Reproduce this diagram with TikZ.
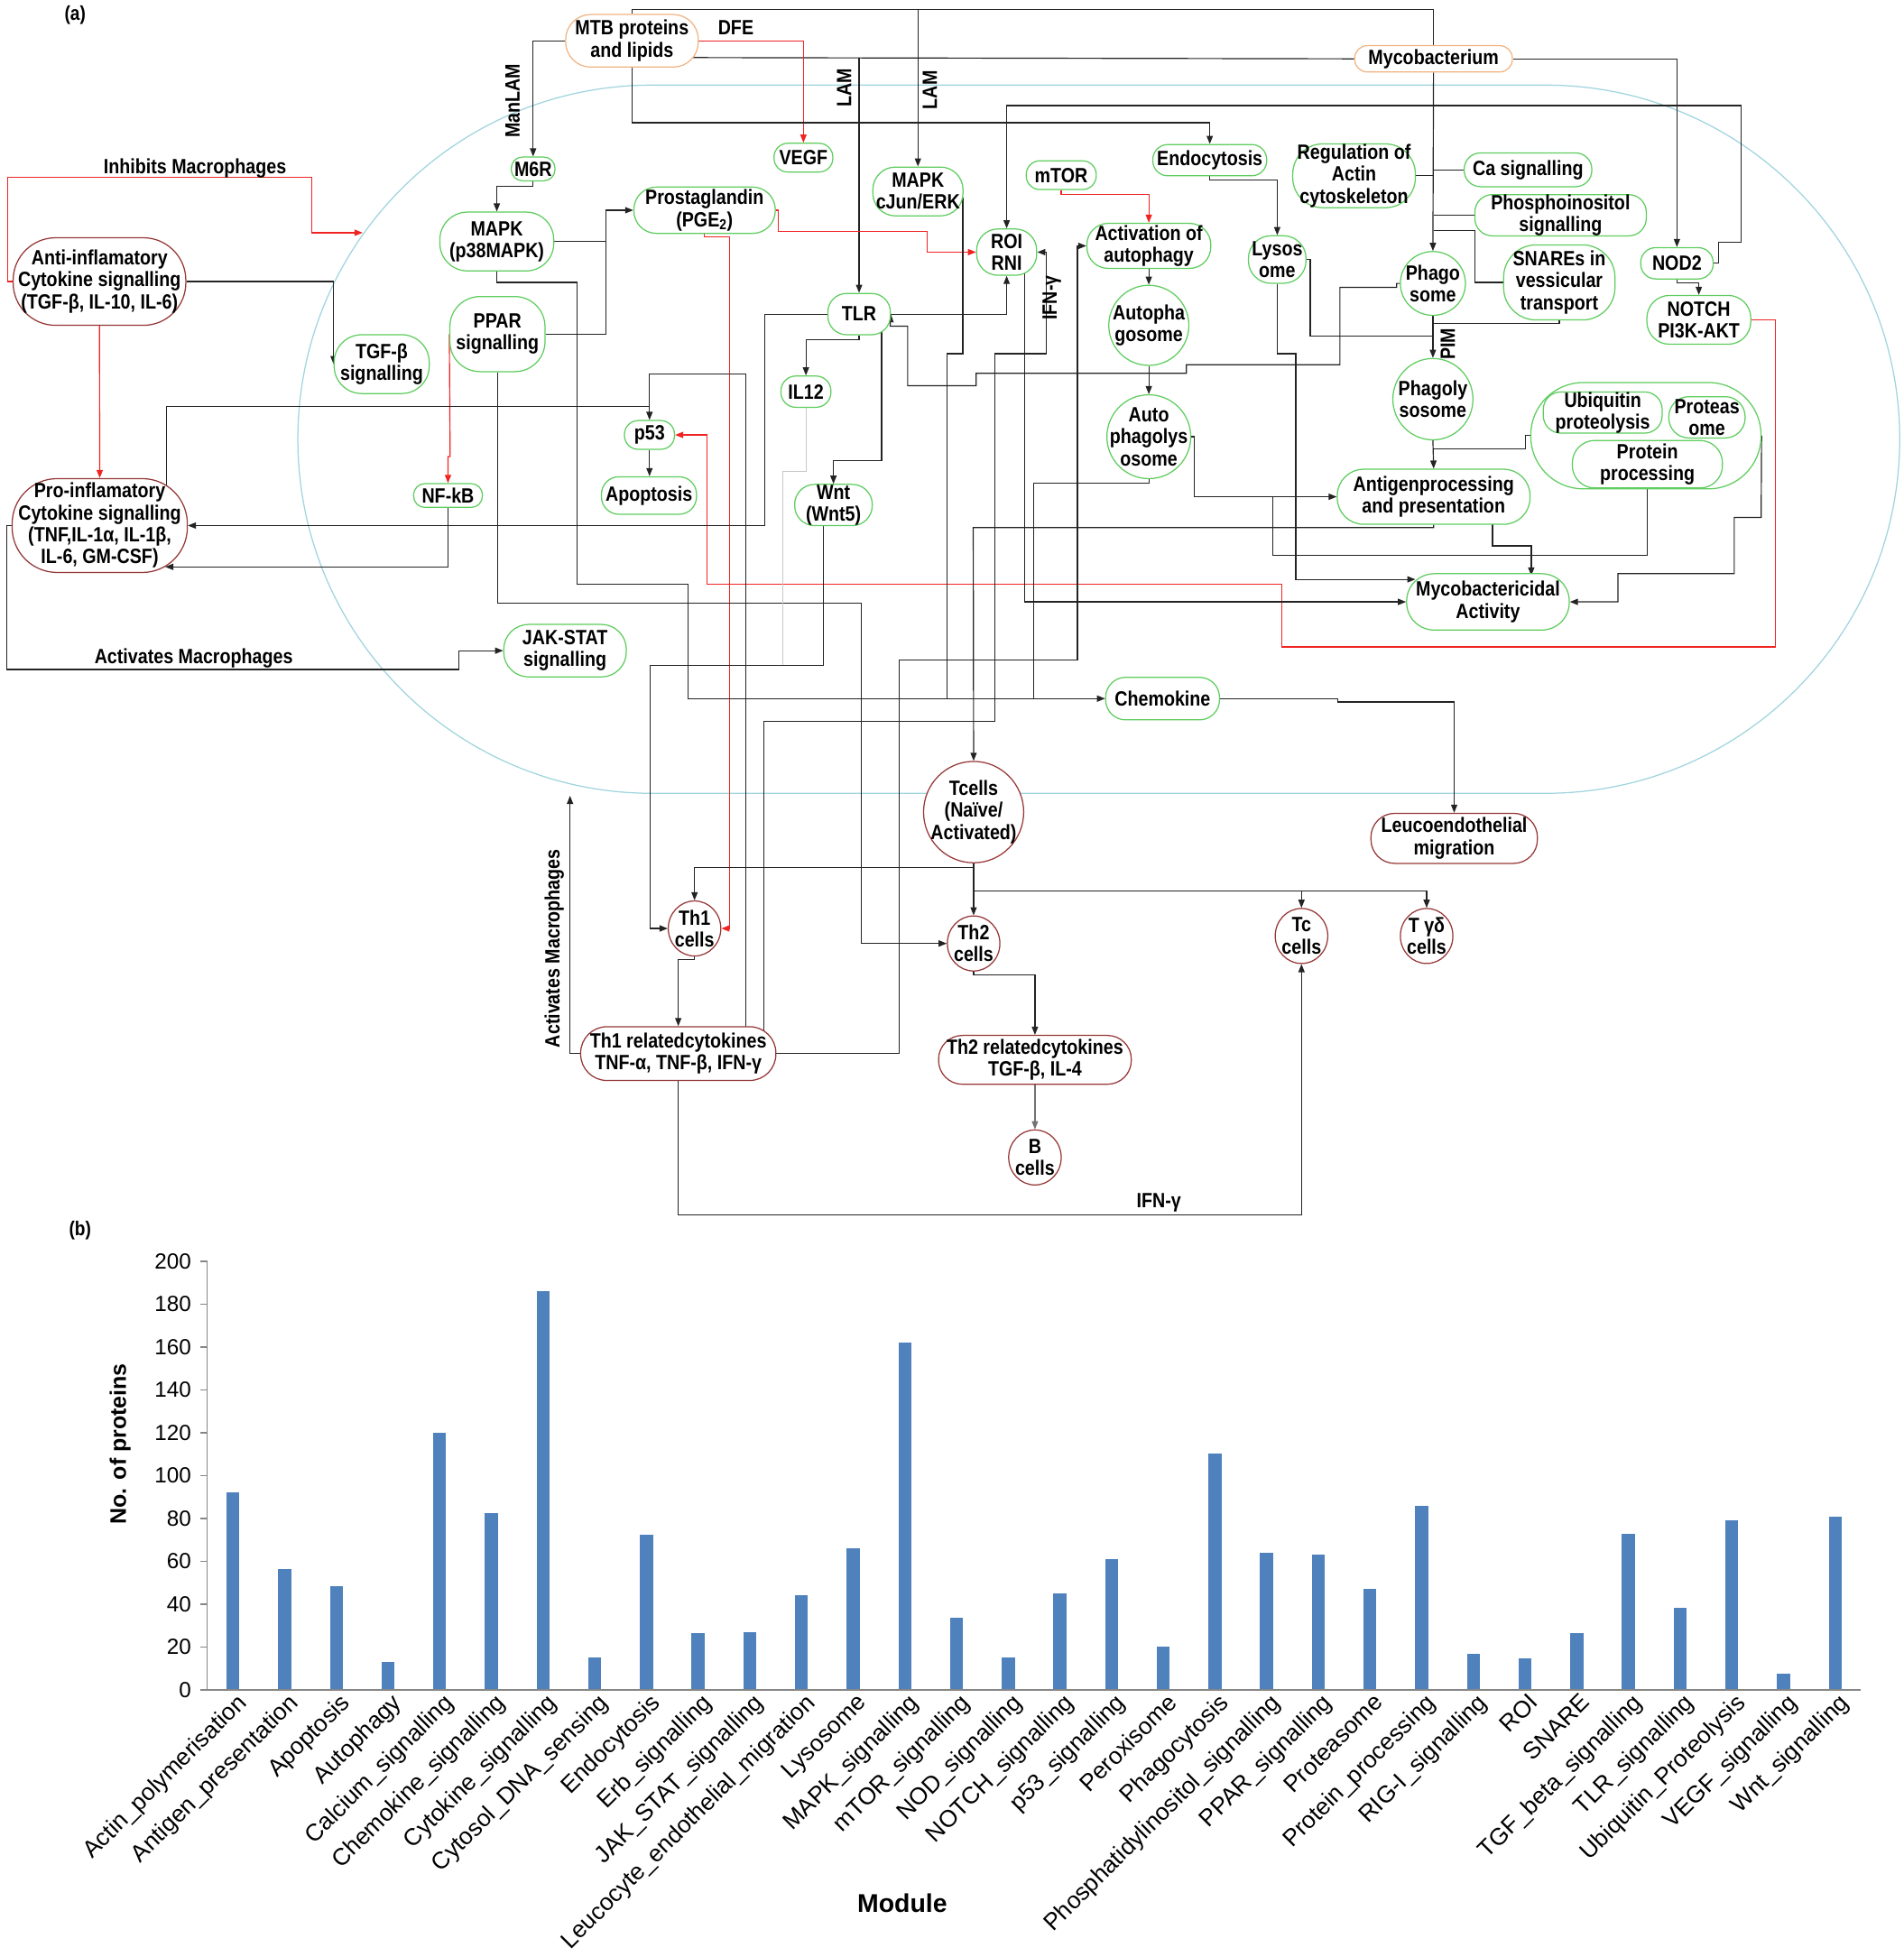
\documentclass[tikz,border=0pt]{standalone}
\usepackage{fontspec}
\setmainfont{Liberation Sans}
\newfontfamily\nf{Liberation Sans}[FakeStretch=0.86]
\usetikzlibrary{arrows.meta,shapes.geometric}
\pgfdeclarelayer{bg}
\pgfsetlayers{bg,main}
\definecolor{gC}{RGB}{95,205,95}
\definecolor{rC}{RGB}{150,55,55}
\definecolor{oC}{RGB}{240,180,130}
\definecolor{memC}{RGB}{160,212,222}
\definecolor{lnC}{RGB}{35,35,35}
\definecolor{redC}{RGB}{240,35,35}
\definecolor{barC}{RGB}{79,129,189}
\definecolor{axC}{RGB}{134,134,134}
\definecolor{grayln}{RGB}{200,200,200}
\begin{document}
\begin{tikzpicture}[x=1pt,y=-1pt,
  nfont/.style={font=\nf\bfseries\fontsize{16.5}{17.5}\selectfont},
  base/.style={nfont, align=center, inner sep=0pt, fill=white, line width=0.9pt},
  sz/.style n args={3}{minimum width=#1, minimum height=#2, rounded corners=#3},
  esz/.style 2 args={minimum width=#1, minimum height=#2},
  gbox/.style={base, draw=gC, rectangle},
  rbox/.style={base, draw=rC, rectangle},
  obox/.style={base, draw=oC, rectangle},
  gell/.style={base, draw=gC, ellipse},
  rell/.style={base, draw=rC, ellipse},
  lbl/.style={nfont, align=center, inner sep=0pt},
  note/.style={nfont, inner sep=0pt},
  ln/.style={draw=lnC, line width=0.85pt},
  arr/.style={ln, -{Triangle[length=6.5pt,width=5pt]}},
  rln/.style={draw=redC, line width=0.85pt},
  rarr/.style={rln, -{Triangle[length=6.5pt,width=5pt]}},
  chartlbl/.style={font=\fontsize{19}{21}\selectfont, inner sep=0pt},
  ticklbl/.style={font=\fontsize{17.5}{19}\selectfont, inner sep=0pt},
]
\useasboundingbox (0,0) rectangle (1521,1564);

% ---------------- nodes (a) ----------------
\node[obox, sz={106}{42}{20}] (mtb) at (505,32.6) {MTB proteins\\and lipids};
\node[obox, sz={126}{21}{10}] (myco) at (1145.5,47) {Mycobacterium};
\node[gbox, sz={35}{19}{9}] (m6r) at (426,135) {M6R};
\node[gbox, sz={47}{23}{11}] (vegf) at (642,126) {VEGF};
\node[gbox, sz={72}{39}{18}] (mapkj) at (733.5,153) {MAPK\\cJun/ERK};
\node[gbox, sz={56}{23}{11}] (mtor) at (848,140) {mTOR};
\node[gbox, sz={91}{25}{12}] (endo) at (966.7,128) {Endocytosis};
\node[gbox, sz={98}{51}{24}] (reg) at (1082,140.5) {Regulation of\\Actin\\cytoskeleton};
\node[gbox, sz={102}{27}{13}] (ca) at (1221,135.7) {Ca signalling};
\node[gbox, sz={137}{30}{14}] (phos) at (1247,172) {Phosphoinositol\\signalling};
\node[gbox, sz={113}{37}{18}] (prost) at (563,168) {Prostaglandin\\(PGE\textsubscript{2})};
\node[gbox, sz={91}{47}{22}] (mapkp) at (397,193) {MAPK\\(p38MAPK)};
\node[gbox, sz={48}{37}{17}] (roi) at (804.4,201.5) {ROI\\RNI};
\node[gbox, sz={99}{36}{17}] (activ) at (918,196.5) {Activation of\\autophagy};
\node[gbox, sz={46}{38}{18}] (lyso) at (1020.6,207.4) {Lysos\\ome};
\node[gell, esz={52}{51}, label={[lbl]center:Phago\\some}] (phago) at (1145,226.5) {};
\node[gbox, sz={89}{60}{26}] (snare) at (1246,225.7) {SNAREs in\\vessicular\\transport};
\node[gbox, sz={58}{25}{12}] (nod2) at (1340,210.4) {NOD2};
\node[gbox, sz={83}{39}{18}] (notch) at (1357.5,255.6) {NOTCH\\PI3K-AKT};
\node[rbox, sz={138}{70}{34}] (antiinf) at (79.5,225) {Anti-inflamatory\\Cytokine signalling\\(TGF-β, IL-10, IL-6)};
\node[gbox, sz={76}{47}{22}] (tgf) at (305,291) {TGF-β\\signalling};
\node[gbox, sz={76}{60}{24}] (ppar) at (397.5,267) {PPAR\\signalling};
\node[gbox, sz={50}{33}{15}] (tlr) at (686.5,251) {TLR};
\node[gell, esz={64}{64}, label={[lbl]center:Autopha\\gosome}] (autoph) at (918,260) {};
\node[gbox, sz={40}{25}{12}] (il12) at (644,313) {IL12};
\node[gell, esz={64}{65}, label={[lbl]center:Phagoly\\sosome}] (phagoly) at (1145,319) {};
\node[gbox, sz={184}{85}{42}] (ubg) at (1315.2,348.2) {};
\node[gbox, sz={95}{29}{14}] (ubi) at (1280.7,329.7) {Ubiquitin\\proteolysis};
\node[gbox, sz={61}{33}{16}] (prot) at (1364,333.5) {Proteas\\ome};
\node[gbox, sz={120}{38}{18}] (pp) at (1316.4,371) {Protein\\processing};
\node[gbox, sz={40}{23}{11}] (p53) at (519,347.6) {p53};
\node[gell, esz={67}{67}, label={[lbl]center:Auto\\phagolys\\osome}] (autoly) at (918,349) {};
\node[rbox, sz={140}{75}{36}] (proinf) at (79.7,420) {Pro-inflamatory\\Cytokine signalling\\(TNF,IL-1α, IL-1β,\\IL-6, GM-CSF)};
\node[gbox, sz={55}{19}{9}] (nfkb) at (358,396) {NF-kB};
\node[gbox, sz={76}{30}{14}] (apop) at (518.6,396) {Apoptosis};
\node[gbox, sz={62}{33}{16}] (wnt) at (666,403.6) {Wnt\\(Wnt5)};
\node[gbox, sz={154}{44}{21}] (antigen) at (1145.6,397) {Antigenprocessing\\and presentation};
\node[gbox, sz={130}{45}{22}] (mycob) at (1189,481) {Mycobactericidal\\Activity};
\node[gbox, sz={98}{42}{20}] (jak) at (451.5,520) {JAK-STAT\\signalling};
\node[gbox, sz={91}{34}{16}] (chemo) at (929,558.3) {Chemokine};
\node[rell, esz={80}{81}, label={[lbl]center:Tcells\\(Naïve/\\Activated)}] (tcell) at (778,649) {};
\node[rbox, sz={133}{40}{19}] (leuco) at (1162,670) {Leucoendothelial\\migration};
\node[rell, esz={42}{44}, label={[lbl]center:Th1\\cells}] (th1) at (555,742) {};
\node[rell, esz={42}{44}, label={[lbl]center:Th2\\cells}] (th2) at (778,754) {};
\node[rell, esz={42}{44}, label={[lbl]center:Tc\\cells}] (tc) at (1040,748) {};
\node[rell, esz={42}{44}, label={[lbl]center:T γδ\\cells}] (tgd) at (1140,748) {};
\node[rbox, sz={156}{43}{21}] (th1cyt) at (542,842) {Th1 relatedcytokines\\TNF-α, TNF-β, IFN-γ};
\node[rbox, sz={154}{39}{19}] (th2cyt) at (827,847) {Th2 relatedcytokines\\TGF-β, IL-4};
\node[rell, esz={42}{44}, label={[lbl]center:B\\cells}] (bcell) at (827,925) {};

% labels
\node[note, font=\nf\bfseries\fontsize{16}{18}\selectfont] (la) at (60,12) {(a)};
\node[note] (ldfe) at (588,22.4) {DFE};
\node[note, rotate=90] (lman) at (409.6,80.7) {ManLAM};
\node[note, rotate=90] (llam1) at (674.5,70) {LAM};
\node[note, rotate=90] (llam2) at (743,72) {LAM};
\node[note, rotate=90] (lifn1) at (840.5,238) {IFN-γ};
\node[note, rotate=90] (lpim) at (1157,275) {PIM};
\node[note] (linh) at (155.8,134.5) {Inhibits Macrophages};
\node[note] (lact1) at (154.8,526.2) {Activates Macrophages};
\node[note, rotate=90] (lact2) at (443,758) {Activates Macrophages};
\node[note] (lifn2) at (926,961) {IFN-γ};

\coordinate (jtop) at (733.5,7.5);
\coordinate (jlam) at (686.5,46);
\coordinate (inhEnd) at (289.8,186);
\coordinate (actEnd) at (455.5,636);

\begin{pgfonlayer}{bg}
\draw[memC, line width=0.9pt, rounded corners=282.9] (238,68) rectangle (1518,634);

% top
\draw[ln] (mtb.north) |- (1145.5,7.5) -- (myco.north);
\draw[arr] (jtop) -- (mapkj.north);
\draw[ln] (550,46) -- (myco.west);
\draw[arr] (jlam) -- (tlr.north);
\draw[rarr] (mtb.east |- 0,33) -| (vegf.north);
\draw[arr] (mtb.south) |- (966.7,98) -- (endo.north);
\draw[arr] (mtb.west |- 0,33) -| (m6r.north);
\draw[arr] (myco.east) -| (nod2.north);
\draw[arr] (nod2.east) -- (1373,210.4) -- (1373,193.8) -- (1391.5,193.8) -- (1391.5,84.3) -| (roi.north);
\draw[arr] (nod2.south) -- (1340,226) -| (notch.north);
\draw[rarr] (notch.east) -- (1418.5,255.6) -- (1418.5,517) -- (1024,517) -- (1024,467) -- (565.2,467) |- (p53.east);
\draw[arr] (m6r.south) -- (426,149) -- (397,149) -- (mapkp.north);
\draw[arr] (endo.south) -- (966.7,144) -| (lyso.north);
\draw[ln] (reg.east) -- (1145.5,140.5);
\draw[ln] (ca.west) -- (1145.5,135.7);
\draw[ln] (phos.west) -- (1145.5,172);
\draw[ln] (snare.west) -- (1178.6,225.7) -- (1178.6,184.5) -- (1145.5,184.5);
\draw[arr] (myco.south) -- (phago.north);
\draw[arr] (phago.south) -- (phagoly.north);
\draw[ln] (snare.south) |- (1145,258.6);
\draw[ln] (lyso.east) -- (1047,207.4) |- (1145,268.5);
\draw[arr] (phago.west) -- (1116,226.5) -- (1116,229.6) -- (1070.7,229.6) -- (1070.7,291.5) -- (948,291.5) -- (948,298.4) -- (780,298.4) -- (780,308.3) -- (725.3,308.3) -- (725.3,260.6) -- (711.3,260.6) -- (tlr.east);
\draw[arr] (lyso.south) -- (1020.6,282.6) -- (1035.4,282.6) -- (1035.4,463) -- (1131,463);
\draw[arr] (phagoly.south) -- (antigen.north);
\draw[ln] (ubg.west) -- (1219,348.2) -- (1219,358.7) -- (1145,358.7);
\draw[arr] (autoly.east) -- (954.5,349) |- (antigen.west);
\draw[ln] (pp.south) |- (1017,443.6) -- (1017,397);
\draw[arr] (antigen.south) |- (777.7,421.6) -- (tcell.north);
\draw[arr] (1192.7,410) |- (1223.6,436.3) -- (1223.6,460);
\draw[arr] (ubg.east) -- (1407.3,413.5) -- (1385.8,413.5) -- (1385.8,458.4) -- (1292.8,458.4) |- (mycob.east);
\draw[arr] (activ.south) -- (autoph.north);
\draw[arr] (autoph.south) -- (autoly.north);
\draw[rarr] (mtor.south) -- (848,155.5) -| (activ.north);
\draw[rarr] (prost.east) -- (622.2,168) -- (622.2,184.8) -- (740.7,184.8) |- (roi.west);
\draw[rarr] (prost.south) -- (563,189) -- (583,189) |- (th1.east);
\draw[ln] (mapkp.east) -- (484.4,193);
\draw[arr] (ppar.east) -- (484.4,267) |- (prost.west);
\draw[rarr] (ppar.west) -- (359.7,364.8) -- (358,364.8) -- (nfkb.north);
\draw[arr] (nfkb.south) |- (132,453);
\draw[arr] (tlr.west) -- (611.2,251) |- (proinf.east);
\draw[ln] (133,395) |- (519,325);
\draw[arr] (596,830) |- (519,299) -- (p53.north);
\draw[arr] (p53.south) -- (apop.north -| p53.south);
\draw[arr] (610.6,830) -- (610.6,576.6) -- (795,576.6) -- (795,282.6) -- (836,282.6) |- (roi.east);
\draw[arr] (th1cyt.east) -- (718.5,842) -- (718.5,527.6) -- (861,527.6) |- (activ.west);
\draw[arr] (ppar.south) |- (688,481.9) |- (th2.west);
\draw[arr] (mapkp.south) -- (397,225.7) -- (461,225.7) -- (461,466.6) -- (550,466.6) |- (chemo.west);
\draw[ln] (769.4,158) -- (769.4,282.6) -- (756.5,282.6) -- (756.5,558.3);
\draw[ln] (autoly.south) -- (918,386.3) -- (825.7,386.3) -- (825.7,558.3);
\draw[arr] (tcell.south) -- (778,693.4) -| (th1.north);
\draw[arr] (tcell.south) -- (th2.north);
\draw[arr] (778,711.9) -| (tgd.north);
\draw[arr] (1040,711.9) -- (tc.north);
\draw[arr] (th1.south) -- (555,767) -| (th1cyt.north);
\draw[arr] (th2.south) -- (778,779) -| (th2cyt.north);
\draw[arr, draw=black!55] (th2cyt.south) -- (bcell.north);
\draw[arr] (th1cyt.south) |- (1040,971) -- (tc.south);
\draw[arr] (th1cyt.west) -- (455.5,842) -- (actEnd);
\draw[arr] (wnt.south -| 658,0) |- (519.8,531.7) |- (th1.west);
\draw[ln, draw=grayln] (il12.south) -- (644,376.5) -- (625.4,376.5) -- (625.4,531.7);
\draw[arr] (tlr.south) -- (686.5,271.6) -| (il12.north);
\draw[arr] (704.5,262) -- (704.5,368) -| (wnt.north);
\draw[arr] (tlr.east) -| (roi.south);
\draw[arr] (819,212) |- (mycob.west);
\draw[arr] (chemo.east) -- (1068.8,558.3) -- (1068.8,561) -| (leuco.north);
\draw[arr] (antiinf.east) -| (tgf.west);
\draw[rarr] (antiinf.south) -- (proinf.north);
\draw[rarr] (antiinf.west) -- (6.4,225) -- (6.4,141.4) -- (249,141.4) |- (inhEnd);
\draw[arr] (proinf.west) -- (5.5,420) -- (5.5,535) -- (366.6,535) |- (jak.west);
\end{pgfonlayer}

% ---------------- chart (b) ----------------
\node[note, font=\nf\bfseries\fontsize{16}{18}\selectfont] (lb) at (64,983.6) {(b)};
\foreach \k in {0,20,...,200}{
  \draw[axC, line width=1pt] (160,{1350.5-1.7125*\k}) -- (165.5,{1350.5-1.7125*\k});
  \node[ticklbl, anchor=east] (tk\k) at (153,{1350.5-1.7125*\k}) {\k};
}
\foreach \v/\t [count=\i from 0] in {92/Actin\_polymerisation, 56.5/Antigen\_presentation, 48.5/Apoptosis, 13/Autophagy, 120/Calcium\_signalling, 82.5/Chemokine\_signalling, 186/Cytokine\_signalling, 15.3/Cytosol\_DNA\_sensing, 72.5/Endocytosis, 26.5/Erb\_signalling, 27/JAK\_STAT\_signalling, 44/Leucocyte\_endothelial\_migration, 66/Lysosome, 162/MAPK\_signalling, 33.5/mTOR\_signalling, 15/NOD\_signalling, 45/NOTCH\_signalling, 61/p53\_signalling, 20/Peroxisome, 110.5/Phagocytosis, 64/Phosphatidylinositol\_signalling, 63/PPAR\_signalling, 47/Proteasome, 86/Protein\_processing, 17/RIG-I\_signalling, 14.5/ROI, 26.5/SNARE, 73/TGF\_beta\_signalling, 38.5/TLR\_signalling, 79/Ubiquitin\_Proteolysis, 7.5/VEGF\_signalling, 81/Wnt\_signalling}{
  \fill[barC] ({165.5+41.3*(\i+0.5)-5.2},1350.5) rectangle ++(10.4,{-1.7125*\v});
  \node[chartlbl, rotate=45, anchor=north east] (cat\i) at ({165.5+41.3*(\i+0.5)+2},1352) {\t};
}
\draw[axC, line width=1pt] (165.5,1008) -- (165.5,1350.5) -- (1487,1350.5);
\node[font=\bfseries\fontsize{18}{20}\selectfont, rotate=90] (ylab) at (96,1154) {No. of proteins};
\node[font=\bfseries\fontsize{20.5}{22}\selectfont] (xlab) at (721,1521) {Module};
\end{tikzpicture}
\end{document}
